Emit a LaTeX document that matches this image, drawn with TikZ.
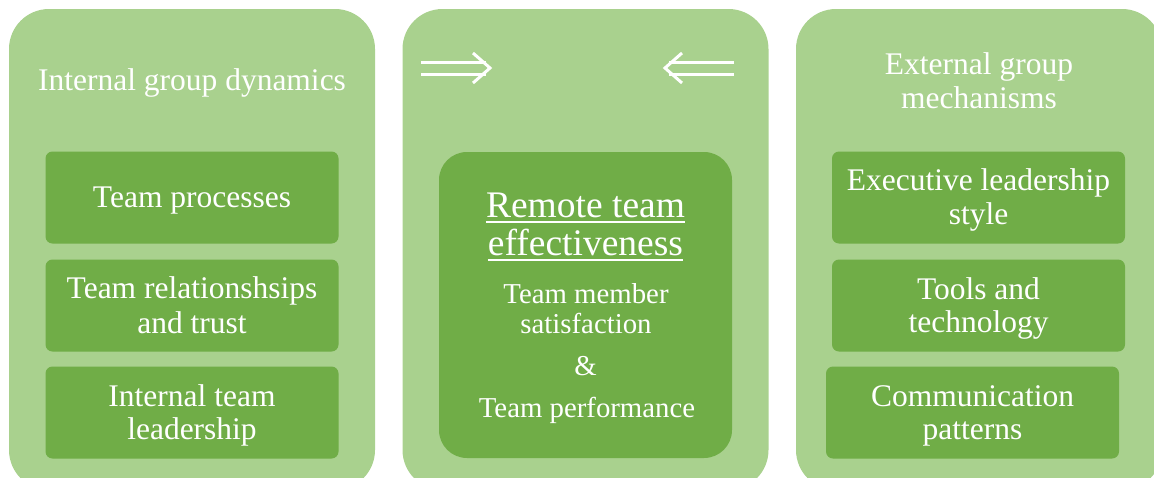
\documentclass[tikz,border=0pt]{standalone}
\usepackage{fontspec}
\setmainfont{Liberation Serif}
\usepackage{tikz}

\definecolor{panelgreen}{HTML}{A9D18E}
\definecolor{boxgreen}{HTML}{70AD47}

\newcommand{\rowstrut}{\rule[-6pt]{0pt}{33pt}}

\tikzset{
  panel/.style={fill=panelgreen, rounded corners=40, minimum width=366, minimum height=481, inner sep=0pt},
  factor/.style={fill=boxgreen, rounded corners=7, text=white, align=center,
    minimum width=293, minimum height=92, inner sep=0pt, font=\fontsize{31.5}{33}\selectfont},
  heading/.style={text=white, align=center, inner sep=0pt, font=\fontsize{31.5}{34}\selectfont},
  outline/.style={text=white, inner sep=0pt, anchor=base},
  arrowline/.style={white, line width=3, line join=miter},
}

\begin{document}
\begin{tikzpicture}[x=1pt, y=-1pt]

  \clip (0,0) rectangle (1154,477);

  \node[panel] (internal) at (192,249.5) {};
  \node[panel] (center) at (585.5,249.5) {};
  \node[panel] (external) at (979,249.5) {};

  \node[heading, anchor=base] (internaltitle) at (192,90) {Internal group dynamics};
  \node[heading] (externaltitle) at (979,80.5) {\rowstrut External group\\\rowstrut mechanisms};

  \node[factor] (processes) at (192,197.5) {\rowstrut Team processes};
  \node[factor] (trust) at (192,305.5) {\rowstrut Team relationshsips\\\rowstrut and trust};
  \node[factor] (leadership) at (192,412.5) {\rowstrut Internal team\\\rowstrut leadership};

  \node[factor] (executive) at (978.5,197.5) {\rowstrut Executive leadership\\\rowstrut style};
  \node[factor] (tools) at (978.5,305.5) {\rowstrut Tools and\\\rowstrut technology};
  \node[factor] (communication) at (972.5,412.5) {\rowstrut Communication\\\rowstrut patterns};

  \node[fill=boxgreen, rounded corners=28, minimum width=293, minimum height=306] (outcome) at (585.5,305) {};

  \node[outline, font=\fontsize{37.5}{38}\selectfont] (remote) at (585.5,217) {Remote team};
  \node[outline, font=\fontsize{37.5}{38}\selectfont] (effect) at (585.5,255) {effectiveness};
  \draw[white, line width=2.5] ([yshift=-5]remote.base west) -- ([yshift=-5]remote.base east);
  \draw[white, line width=2.5] ([yshift=-5]effect.base west) -- ([yshift=-5]effect.base east);

  \node[outline, font=\fontsize{28.8}{30}\selectfont] (member) at (586,303) {Team member};
  \node[outline, font=\fontsize{28.8}{30}\selectfont] (satisfaction) at (586,333) {satisfaction};
  \node[outline, font=\fontsize{28.8}{30}\selectfont] (and) at (585.5,375) {\&};
  \node[outline, font=\fontsize{28.8}{30}\selectfont] (performance) at (587,417) {Team performance};

  \foreach \y in {62,74} {
    \draw[arrowline] (421,\y) -- (486,\y);
    \draw[arrowline] (734,\y) -- (669,\y);
  }
  \draw[arrowline] (473,53) -- (490,68) -- (473,83);
  \draw[arrowline] (682,53) -- (665,68) -- (682,83);

\end{tikzpicture}
\end{document}
